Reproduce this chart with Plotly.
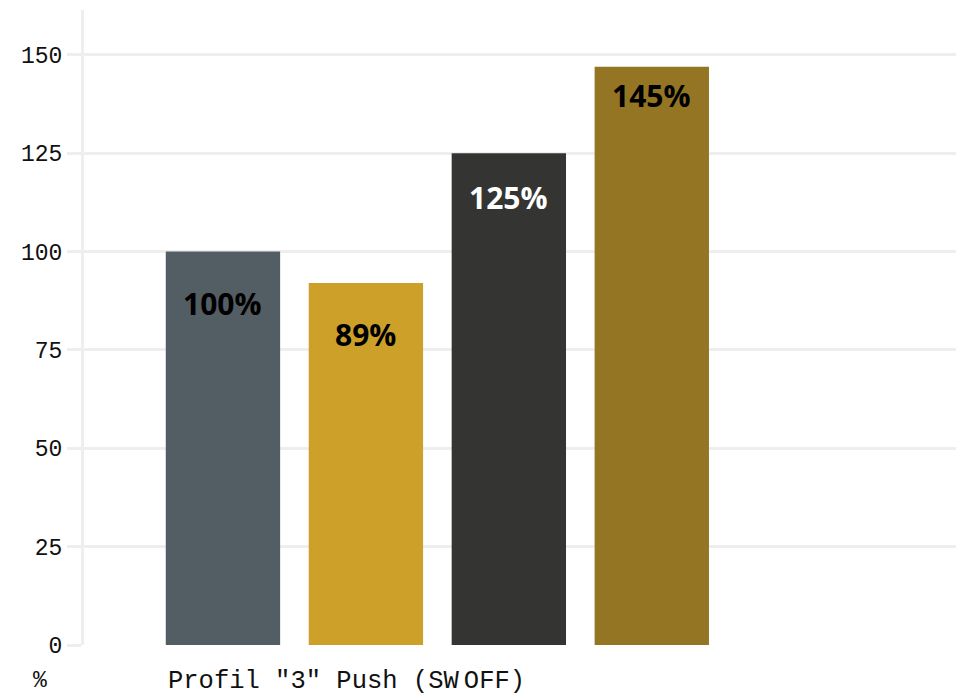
import plotly.graph_objects as go

# Data
positions = [0, 1, 2, 3]
values = [100, 92, 125, 147]
labels = ["100%", "89%", "125%", "145%"]
category_label = 'Profil "3" Push (SW\u2009OFF)'
y_ticks = [0, 25, 50, 75, 100, 125, 150]
unit_label = "%"

# Styles
colors = ["#535e64", "#cda02a", "#343432", "#947524"]
text_colors = ["#000000", "#000000", "#ffffff", "#000000"]
label_shift = [-52, -51, -44, -29]
grid = "#eeeeee"
mono = "Liberation Mono"

fig = go.Figure()
fig.add_trace(go.Bar(
    x=positions, y=values, width=0.8,
    marker=dict(color=colors, line=dict(width=0)),
    hoverinfo="skip", showlegend=False,
))

for xv, yv, lab, tc, sh in zip(positions, values, labels, text_colors, label_shift):
    fig.add_annotation(x=xv, y=yv, xref="x", yref="y", text=f"<b>{lab}</b>",
                       showarrow=False, yshift=sh,
                       font=dict(family="Open Sans", size=30, color=tc))

fig.add_annotation(x=positions[0] - 0.4, y=0, xref="x", yref="y",
                   text=category_label, showarrow=False, xanchor="left", yanchor="middle",
                   yshift=-36, font=dict(family=mono, size=25.5, color="#111111"))
fig.add_annotation(x=0, y=0, xref="paper", yref="y", text=unit_label,
                   showarrow=False, xanchor="center", yanchor="middle",
                   xshift=-44, yshift=-36,
                   font=dict(family=mono, size=23, color="#111111"))

fig.update_layout(
    width=964, height=693,
    margin=dict(l=76, r=0, t=2, b=56),
    paper_bgcolor="white", plot_bgcolor="white",
    xaxis=dict(range=[-0.972, 5.24], showticklabels=False, showgrid=False,
               zeroline=False, showline=False, ticks=""),
    yaxis=dict(range=[0, 161.4], tickvals=y_ticks, showgrid=True, gridcolor=grid,
               gridwidth=3, zeroline=False, showline=True, linecolor=grid,
               linewidth=3, ticks="outside", ticklen=14, tickcolor=grid, tickwidth=3,
               tickfont=dict(family=mono, size=23, color="#111111")),
)

fig.write_html("out.html")
